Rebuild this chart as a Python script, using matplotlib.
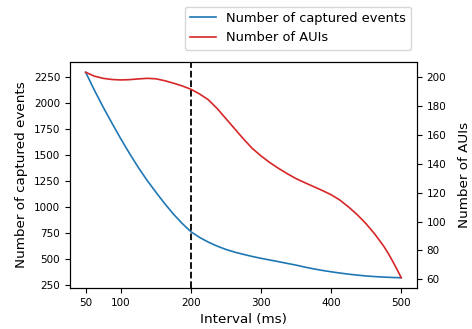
import numpy as np
import matplotlib
matplotlib.use("Agg")
import matplotlib.pyplot as plt

# interval in ms
interval = [50, 62.5, 75, 87.5, 100, 112.5, 125, 137.5, 150, 162.5, 175, 187.5,
            200, 212.5, 225, 237.5, 250, 262.5, 275, 287.5, 300, 312.5, 325,
            337.5, 350, 362.5, 375, 387.5, 400, 412.5, 425, 437.5, 450, 462.5,
            475, 481.25, 487.5, 493.75, 500]
captured_events = [2292, 2120, 1958, 1805, 1656, 1515, 1381, 1258, 1145, 1036,
                   935, 845, 765, 710, 665, 627, 595, 569, 548, 528, 510, 494,
                   478, 461, 445, 426, 409, 394, 381, 369, 358, 349, 341, 335,
                   330, 328, 326.5, 325, 324]
auis = [203, 200.3, 198.8, 198.0, 197.7, 197.9, 198.4, 198.8, 198.5, 197.2,
        195.5, 193.6, 191.3, 188, 184, 178, 171, 164, 157, 150.5, 145.3,
        140.7, 136.7, 133, 129.6, 126.8, 124.1, 121.4, 118.5, 114.8, 110,
        104.6, 98.4, 91.2, 83, 78.2, 72.8, 67.2, 61.2]
threshold = 200

fig, ax = plt.subplots(figsize=(4.72, 3.29), dpi=100)
fig.subplots_adjust(left=0.148, right=0.8835, top=0.8116, bottom=0.1246)

l1, = ax.plot(interval, captured_events, color="tab:blue", lw=1.2,
              label="Number of captured events")
ax.axvline(threshold, color="black", ls="--", lw=1.3)
ax.set_xlabel("Interval (ms)", fontsize=9.7)
ax.set_ylabel("Number of captured events", fontsize=9.7)
ax.set_xticks([50, 100, 200, 300, 400, 500])
ax.set_yticks(range(250, 2251, 250))
ax.tick_params(labelsize=7.5)

ax2 = ax.twinx()
l2, = ax2.plot(interval, auis, color="tab:red", lw=1.2, label="Number of AUIs")
ax2.set_ylabel("Number of AUIs", fontsize=9.7, labelpad=8)
ax2.set_yticks(range(60, 201, 20))
ax2.tick_params(labelsize=7.5)

fig.legend(handles=[l1, l2], loc="upper right", bbox_to_anchor=(0.8855, 1.0),
           fontsize=9.4)

fig.savefig("out.png", dpi=100)
